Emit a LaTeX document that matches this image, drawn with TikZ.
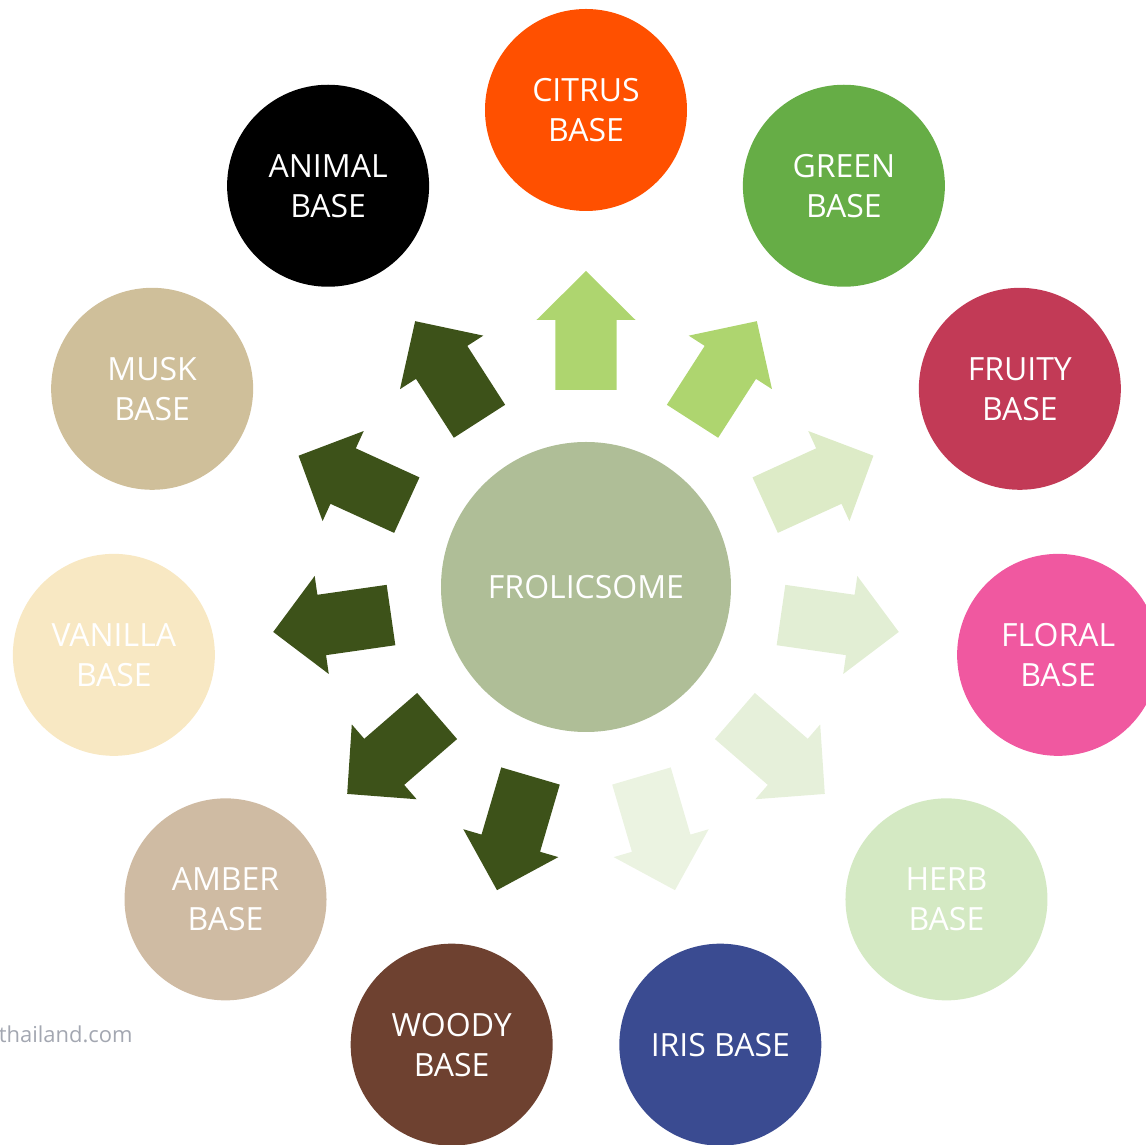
\documentclass[tikz,border=0pt]{standalone}
\usepackage{fontspec}
\setmainfont{Open Sans}
\usetikzlibrary{positioning}
\usepackage{xcolor}
\definecolor{frcentre}{HTML}{AFBE97}
\definecolor{frcitrus}{HTML}{FF5000}
\definecolor{frgreen}{HTML}{66AD46}
\definecolor{frfruity}{HTML}{C23A56}
\definecolor{frfloral}{HTML}{F058A0}
\definecolor{frherb}{HTML}{D4E9C3}
\definecolor{friris}{HTML}{3A4B91}
\definecolor{frwoody}{HTML}{6E4130}
\definecolor{framber}{HTML}{CFBBA3}
\definecolor{frvanilla}{HTML}{F8E8C3}
\definecolor{frmusk}{HTML}{CFBF9A}
\definecolor{franimal}{HTML}{000000}
\definecolor{arrdark}{HTML}{3D5219}
\definecolor{arrlight}{HTML}{AED56F}
\definecolor{arrfruity}{HTML}{DDEBC7}
\definecolor{arrfloral}{HTML}{E2EED4}
\definecolor{arrherb}{HTML}{E6F0DA}
\definecolor{arriris}{HTML}{EBF3E1}
\definecolor{frgrey}{HTML}{A3A7B1}
\tikzset{
  pics/basearrow/.style={code={
    \fill[#1] (0,-0.61) -- (1.4,-0.61) -- (1.4,-0.99) -- (2.38,0)
      -- (1.4,0.99) -- (1.4,0.61) -- (0,0.61) -- cycle;
  }}
}
\begin{document}
\begin{tikzpicture}[
    basecirc/.style={circle, minimum size=4.04cm, inner sep=0pt, text=white,
      align=center, font=\fontsize{18.2pt}{22.8pt}\selectfont}]
    \useasboundingbox (-11.72,-11.16) rectangle (11.2,11.74);
    % CENTRE
    \node[basecirc, fill=frcentre, minimum size=5.8cm] (fro) at (0,0) {FROLICSOME};
    % ARROWS
    \pic[rotate=90] at (90:3.94) {basearrow=arrlight};
    \pic[rotate=57.27] at (57.27:3.94) {basearrow=arrlight};
    \pic[rotate=24.55] at (24.55:3.94) {basearrow=arrfruity};
    \pic[rotate=-8.18] at (-8.18:3.94) {basearrow=arrfloral};
    \pic[rotate=-40.91] at (-40.91:3.94) {basearrow=arrherb};
    \pic[rotate=-73.64] at (-73.64:3.94) {basearrow=arriris};
    \pic[rotate=-106.36] at (-106.36:3.94) {basearrow=arrdark};
    \pic[rotate=-139.09] at (-139.09:3.94) {basearrow=arrdark};
    \pic[rotate=-171.82] at (-171.82:3.94) {basearrow=arrdark};
    \pic[rotate=155.45] at (155.45:3.94) {basearrow=arrdark};
    \pic[rotate=122.73] at (122.73:3.94) {basearrow=arrdark};
    % BASES
    \node[basecirc, fill=frcitrus] (citrus) at (90:9.54) {CITRUS\\BASE};
    \node[basecirc, fill=frgreen] (green) at (57.27:9.54) {GREEN\\BASE};
    \node[basecirc, fill=frfruity] (fruity) at (24.55:9.54) {FRUITY\\BASE};
    \node[basecirc, fill=frfloral] (floral) at (-8.18:9.54) {FLORAL\\BASE};
    \node[basecirc, fill=frherb] (herb) at (-40.91:9.54) {HERB\\BASE};
    \node[basecirc, fill=friris] (iris) at (-73.64:9.54) {IRIS BASE};
    \node[basecirc, fill=frwoody] (woody) at (-106.36:9.54) {WOODY\\BASE};
    \node[basecirc, fill=framber] (amber) at (-139.09:9.54) {AMBER\\BASE};
    \node[basecirc, fill=frvanilla] (vanilla) at (-171.82:9.54) {VANILLA\\BASE};
    \node[basecirc, fill=frmusk] (musk) at (155.45:9.54) {MUSK\\BASE};
    \node[basecirc, fill=franimal] (animal) at (122.73:9.54) {ANIMAL\\BASE};
    \node[text=frgrey, anchor=base east, inner sep=0pt,
          font=\fontsize{12.5pt}{15pt}\selectfont] (site) at (-9.06,-9.12) {thailand.com};
\end{tikzpicture}
\end{document}
